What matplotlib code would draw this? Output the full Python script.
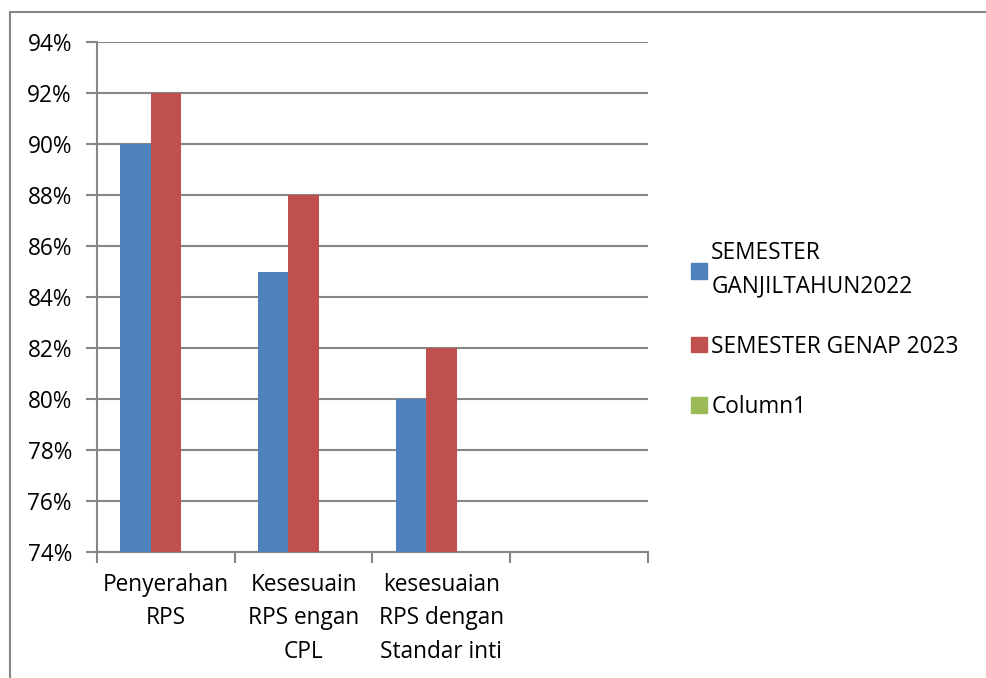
import matplotlib
matplotlib.use("Agg")
import matplotlib.pyplot as plt
import matplotlib.patches as mpatches
import numpy as np

categories = ["Penyerahan\nRPS", "Kesesuain\nRPS engan\nCPL", "kesesuaian\nRPS dengan\nStandar inti", ""]
series_names = ["SEMESTER\nGANJILTAHUN2022", "SEMESTER GENAP 2023", "Column1"]
ganjil_2022 = [0.90, 0.85, 0.80, None]
genap_2023 = [0.92, 0.88, 0.82, None]
column1 = [None, None, None, None]
y_ticks = [0.74, 0.76, 0.78, 0.80, 0.82, 0.84, 0.86, 0.88, 0.90, 0.92, 0.94]

colors = ["#4F81BD", "#C0504D", "#9BBB59"]
grid_color = "#868686"
fs = 16.3

plt.rcParams["font.family"] = ["Open Sans", "DejaVu Sans"]

fig = plt.figure(figsize=(9.87, 6.78), dpi=100)
ax = fig.add_axes([97 / 987, 1 - 552 / 678, (648 - 97) / 987, (552 - 42) / 678])

# outer chart border (cropped at right/bottom like the original)
fig.patches.append(mpatches.Rectangle((9.5 / 987, -0.05), 1.2, 1 - 12 / 678 + 0.05,
                                      transform=fig.transFigure, fill=False,
                                      edgecolor=grid_color, linewidth=1.5))

width = 0.22
centers = np.arange(len(categories)) + 0.5
for i, (vals, color) in enumerate(zip([ganjil_2022, genap_2023, column1], colors)):
    xs = [c + (i - 1) * width for c, v in zip(centers, vals) if v is not None]
    hs = [v - y_ticks[0] for v in vals if v is not None]
    ax.bar(xs, hs, width=width, bottom=y_ticks[0], color=color, zorder=3)

ax.set_xlim(0, len(categories))
ax.set_ylim(y_ticks[0], y_ticks[-1])
ax.set_yticks(y_ticks)
ax.set_yticklabels([f"{v * 100:.0f}%" for v in y_ticks])
ax.yaxis.grid(True, color=grid_color, linewidth=1.5, zorder=0)

ax.set_xticks(np.arange(len(categories) + 1))
ax.set_xticklabels([])
ax.set_xticks(centers, minor=True)
ax.set_xticklabels(categories, minor=True, linespacing=1.52)
ax.tick_params(axis="x", which="minor", length=0, pad=15, labelsize=fs)
ax.tick_params(axis="x", which="major", length=8, width=1.5, color=grid_color)
ax.tick_params(axis="y", length=8, width=1.5, color=grid_color, pad=10, labelsize=fs)

for side in ["top", "right"]:
    ax.spines[side].set_visible(False)
for side in ["left", "bottom"]:
    ax.spines[side].set_color(grid_color)
    ax.spines[side].set_linewidth(1.5)

handles = [mpatches.Patch(color=c) for c in colors]
leg = ax.legend(handles, series_names, loc="center left", bbox_to_anchor=(1.062, 0.435),
                frameon=False, fontsize=fs, handlelength=0.68, handleheight=0.68,
                handletextpad=0.2, labelspacing=1.6, borderpad=0.4, borderaxespad=0)
for t in leg.get_texts():
    t.set_linespacing(1.5)

fig.savefig("out.png", dpi=100)
